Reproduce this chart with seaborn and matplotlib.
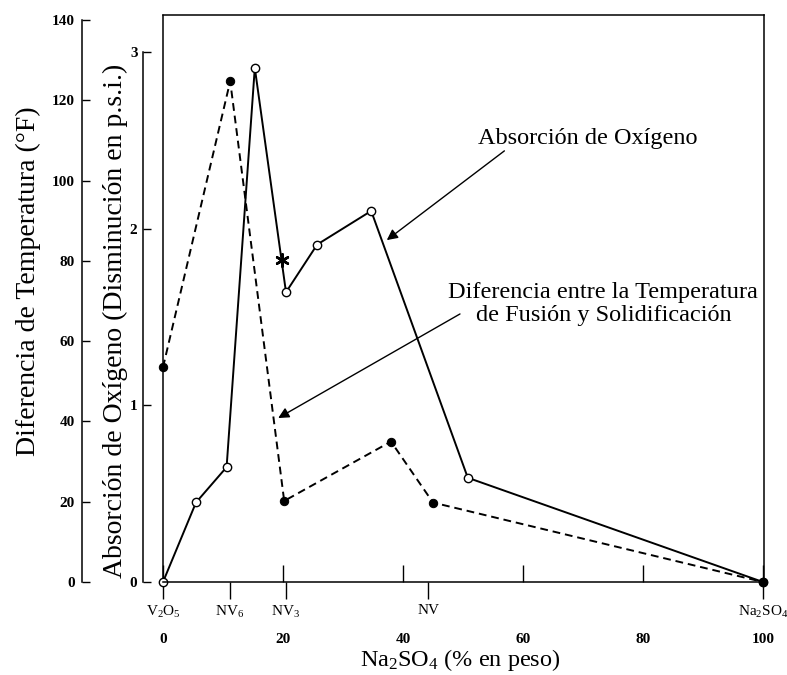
import matplotlib
matplotlib.use("Agg")
import matplotlib.pyplot as plt
import seaborn as sns

# oxygen absorption curve (solid, open circles), psi drop
oxy_x = [0, 5.5, 10.6, 15.3, 20.5, 25.7, 34.7, 50.8, 100]
oxy_y = [0, 0.45, 0.65, 2.91, 1.64, 1.91, 2.10, 0.59, 0]

# melting / solidification temperature difference (dashed, filled circles), deg F
temp_x = [0, 11.2, 20.2, 38.0, 45.0, 100]
temp_y = [53.5, 124.8, 20.2, 35.0, 19.8, 0]

# single asterisk point on the oxygen curve
star_x = [19.8]
star_y = [1.82]

compound_pos = [0, 11.1, 20.5, 44.2, 100]
compound_labels = ["V$_2$O$_5$", "NV$_6$", "NV$_3$", "NV", "Na$_2$SO$_4$"]
pct_ticks = [0, 20, 40, 60, 80, 100]
oxy_ticks = [0, 1, 2, 3]
temp_ticks = [0, 20, 40, 60, 80, 100, 120, 140]

sns.set_theme(style="white")
plt.rcParams["font.family"] = ["Liberation Serif", "DejaVu Serif"]
plt.rcParams["mathtext.fontset"] = "custom"
plt.rcParams["mathtext.rm"] = "Liberation Serif"
plt.rcParams["mathtext.it"] = "Liberation Serif:italic"
plt.rcParams["mathtext.default"] = "rm"
plt.rcParams["text.color"] = "black"
plt.rcParams["axes.labelcolor"] = "black"
plt.rcParams["xtick.color"] = "black"
plt.rcParams["ytick.color"] = "black"

fig = plt.figure(figsize=(7.87, 6.75), dpi=100)
ax = fig.add_axes([163 / 787, 93 / 675, 601 / 787, 567 / 675])
ax2 = ax.twinx()

ax.set_xlim(0, 100.17)
ax.set_ylim(0, 3.209)
ax2.set_ylim(0, 141.3)

# frame and spines
for name in ["top", "right", "bottom"]:
    ax.spines[name].set_visible(True)
    ax.spines[name].set_color("black")
    ax.spines[name].set_linewidth(1.1)
ax.spines["left"].set_position(("outward", 14.4))
ax.spines["left"].set_bounds(0, 3)
ax.spines["left"].set_color("black")
ax.spines["left"].set_linewidth(1.1)
ax.axvline(0, color="black", lw=1.1, clip_on=False)

for name in ["top", "right", "bottom"]:
    ax2.spines[name].set_visible(False)
ax2.spines["left"].set_visible(True)
ax2.spines["left"].set_position(("outward", 58.3))
ax2.spines["left"].set_bounds(0, 140)
ax2.spines["left"].set_color("black")
ax2.spines["left"].set_linewidth(1.1)
ax2.yaxis.tick_left()
ax2.yaxis.set_label_position("left")

# lines
sns.lineplot(x=oxy_x, y=oxy_y, ax=ax, color="black", lw=1.4, marker="o",
             markersize=6, markerfacecolor="white", markeredgecolor="black",
             markeredgewidth=1, estimator=None, sort=False, clip_on=False)
sns.lineplot(x=temp_x, y=temp_y, ax=ax2, color="black", lw=1.4,
             linestyle=(0, (4, 2.5)), marker="o", markersize=6,
             markerfacecolor="black", markeredgecolor="black",
             estimator=None, sort=False, clip_on=False)
sns.scatterplot(x=star_x, y=star_y, ax=ax, marker=(6, 2, 0), s=80,
                color="black", linewidth=1.8, zorder=5)

# ticks
ax.set_yticks(oxy_ticks)
ax.tick_params(axis="y", which="major", direction="in", length=6, width=1,
               labelsize=11, pad=4, left=True)
ax2.set_yticks(temp_ticks)
ax2.tick_params(axis="y", which="major", direction="in", length=6, width=1,
                labelsize=11, pad=5, left=True, right=False)
for lab in ax.get_yticklabels() + ax2.get_yticklabels():
    lab.set_fontweight("bold")

ax.xaxis.remove_overlapping_locs = False
ax.set_xticks(pct_ticks)
ax.set_xticks(compound_pos, minor=True)
ax.set_xticklabels(compound_labels, minor=True)
ax.tick_params(axis="x", which="major", direction="in", length=12, width=1,
               labelsize=11, pad=37, bottom=True)
ax.tick_params(axis="x", which="minor", direction="out", length=12, width=1,
               labelsize=11, pad=4, bottom=True)
for lab in ax.get_xticklabels():
    lab.set_fontweight("bold")

# axis labels
ax.set_xlabel("Na$_2$SO$_4$ (% en peso)", fontsize=17.5)
ax.xaxis.set_label_coords(0.494, -0.115)
ax.set_ylabel("Absorción de Oxígeno (Disminución en p.s.i.)", fontsize=20)
ax.yaxis.set_label_coords(-0.058, 0.46)
ax2.set_ylabel("Diferencia de Temperatura (°F)", fontsize=20)
ax2.yaxis.set_label_coords(-0.203, 0.531)

# annotations
ax.text(70.8, 2.51, "Absorción de Oxígeno", fontsize=17.5, ha="center", va="center")
ax.annotate("", xy=(37.3, 1.935), xytext=(56.9, 2.44),
            arrowprops=dict(arrowstyle="-|>", color="black", lw=1,
                            mutation_scale=16, shrinkA=0, shrinkB=0))
ax.text(73.4, 1.573, "Diferencia entre la Temperatura\nde Fusión y Solidificación",
        fontsize=17.5, ha="center", va="center", multialignment="center",
        linespacing=1.1)
ax.annotate("", xy=(19.2, 0.928), xytext=(49.5, 1.517),
            arrowprops=dict(arrowstyle="-|>", color="black", lw=1,
                            mutation_scale=16, shrinkA=0, shrinkB=0))

fig.savefig("out.png", dpi=100)
